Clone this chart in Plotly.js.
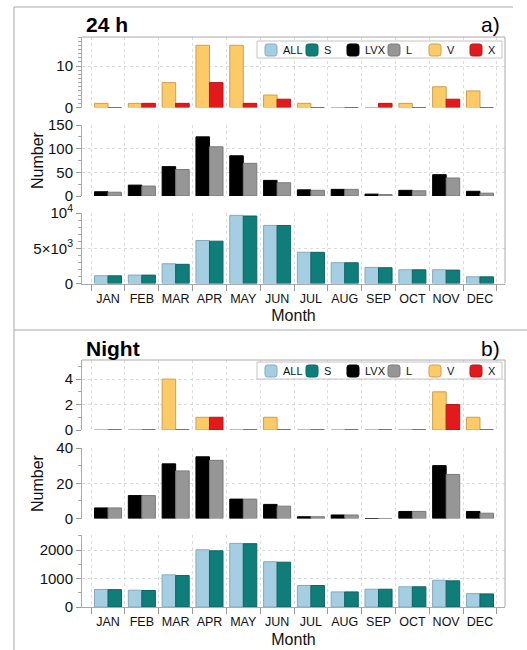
<!DOCTYPE html>
<html>
<head>
<meta charset="utf-8">
<script src="https://cdn.plot.ly/plotly-3.0.1.min.js"></script>
<style>html,body{margin:0;padding:0;background:#fff;}#chart{width:527px;height:650px;}</style>
</head>
<body>
<div id="chart"></div>
<script>
// ---------- data ----------
const months = ["JAN","FEB","MAR","APR","MAY","JUN","JUL","AUG","SEP","OCT","NOV","DEC"];

// Panel a) 24 h
const dayV   = [1, 1, 6, 15, 15, 3, 1, 0, 0, 1, 5, 4];
const dayX   = [0, 1, 1, 6, 1, 2, 0, 0, 1, 0, 2, 0];
const dayLVX = [9, 23, 62, 125, 85, 33, 13, 14, 4, 12, 45, 10];
const dayL   = [8, 21, 56, 104, 69, 28, 12, 14, 3, 11, 38, 6];
const dayALL = [1100, 1200, 2800, 6100, 9670, 8240, 4430, 2950, 2290, 1950, 1950, 950];
const dayS   = [1090, 1190, 2720, 6000, 9570, 8230, 4420, 2940, 2240, 1940, 1900, 940];

// Panel b) Night
const nightV   = [0, 0, 4, 1, 0, 1, 0, 0, 0, 0, 3, 1];
const nightX   = [0, 0, 0, 1, 0, 0, 0, 0, 0, 0, 2, 0];
const nightLVX = [6, 13, 31, 35, 11, 8, 1, 2, 0, 4, 30, 4];
const nightL   = [6, 13, 27, 33, 11, 7, 1, 2, 0, 4, 25, 3];
const nightALL = [615, 590, 1130, 2010, 2235, 1590, 755, 530, 625, 710, 940, 470];
const nightS   = [610, 580, 1105, 1975, 2225, 1575, 755, 530, 625, 710, 920, 460];

const seriesNames = ["ALL","S","LVX","L","V","X"];
const fills = {ALL:"#a6cee3", S:"#0f7e7b", LVX:"#000000", L:"#969696", V:"#fdca68", X:"#e31a1c"};
const edges = {ALL:"#86a9bb", S:"#0b6664", LVX:"#000000", L:"#7a7a7a", V:"#cf9f4c", X:"#b3191b"};

// ---------- layout helpers ----------
const W = 527, H = 650;
const px = v => v / W;
const py = v => 1 - v / H;
const FONT = "Liberation Sans, Arial, Helvetica, sans-serif";
const xDom = [px(82), px(505)];

function bar(name, y, xa, ya) {
  return {
    type: "bar", name: name, x: months, y: y,
    xaxis: xa, yaxis: ya, showlegend: false,
    marker: {color: fills[name], line: {color: edges[name], width: 1}},
    hoverinfo: "skip"
  };
}

const data = [
  bar("ALL", dayALL, "x3", "y3"),
  bar("S", dayS, "x3", "y3"),
  bar("LVX", dayLVX, "x2", "y2"),
  bar("L", dayL, "x2", "y2"),
  bar("V", dayV, "x", "y"),
  bar("X", dayX, "x", "y"),
  bar("ALL", nightALL, "x6", "y6"),
  bar("S", nightS, "x6", "y6"),
  bar("LVX", nightLVX, "x5", "y5"),
  bar("L", nightL, "x5", "y5"),
  bar("V", nightV, "x4", "y4"),
  bar("X", nightX, "x4", "y4")
];

const gridStyle = {showgrid: true, gridcolor: "#dcdcdc", griddash: "dot", gridwidth: 1};

function xax(anchor, bottom) {
  return Object.assign({
    domain: xDom, anchor: anchor, type: "category",
    range: [-0.77, 11.74], tickson: "boundaries", tickangle: 0,
    ticks: bottom ? "outside" : "", ticklen: 6, tickcolor: "#999",
    ticklabelstandoff: 3,
    showticklabels: bottom, showline: bottom, linecolor: "#aaa", linewidth: 1,
    tickfont: {size: 12.5, color: "#111", family: FONT},
    zeroline: false, fixedrange: true
  }, gridStyle, bottom ? {title: {text: "Month", font: {size: 16, family: FONT, color: "#111"}, standoff: 5}} : {});
}

function yax(anchor, dom, range, tickvals, ticktext, minorDtick) {
  return Object.assign({
    domain: dom, anchor: anchor, range: range,
    tickmode: "array", tickvals: tickvals, ticktext: ticktext,
    ticks: "outside", ticklen: 5, tickcolor: "#999",
    showline: true, linecolor: "#aaa", linewidth: 1,
    tickfont: {size: 15, color: "#111", family: FONT},
    zeroline: false, fixedrange: true,
    minor: {dtick: minorDtick, ticks: "outside", ticklen: 3, tickcolor: "#aaa", showgrid: false}
  }, gridStyle);
}

// ---------- legend (one per panel), keyed to the series names / colours ----------
const legendSwatchX = [265, 306, 347, 388, 429, 470];
function roundRect(x0, y0, x1, y1, r) {
  const X = v => px(v).toFixed(5), Y = v => py(v).toFixed(5);
  return `M${X(x0 + r)},${Y(y0)} L${X(x1 - r)},${Y(y0)} Q${X(x1)},${Y(y0)} ${X(x1)},${Y(y0 + r)} ` +
         `L${X(x1)},${Y(y1 - r)} Q${X(x1)},${Y(y1)} ${X(x1 - r)},${Y(y1)} L${X(x0 + r)},${Y(y1)} ` +
         `Q${X(x0)},${Y(y1)} ${X(x0)},${Y(y1 - r)} L${X(x0)},${Y(y0 + r)} Q${X(x0)},${Y(y0)} ${X(x0 + r)},${Y(y0)} Z`;
}
function legendParts(top) {
  const shapes = [{
    type: "rect", xref: "paper", yref: "paper",
    x0: px(257), x1: px(502), y0: py(top + 17), y1: py(top),
    fillcolor: "#fff", line: {color: "#c4c4c4", width: 1}
  }];
  const ann = [];
  seriesNames.forEach((n, i) => {
    const sx = legendSwatchX[i];
    shapes.push({
      type: "path", xref: "paper", yref: "paper",
      path: roundRect(sx, top + 3, sx + 12, top + 15, 2.5),
      fillcolor: fills[n], line: {color: edges[n], width: 1}
    });
    ann.push({
      text: n, xref: "paper", yref: "paper", x: px(sx + 16), y: py(top + 9),
      xanchor: "left", yanchor: "middle", showarrow: false,
      font: {size: 11, family: FONT, color: "#111"}
    });
  });
  return {shapes, ann};
}
const legA = legendParts(41);
const legB = legendParts(362);

const lineStyle = {color: "#aaa", width: 1};
const layout = {
  width: W, height: H,
  margin: {l: 0, r: 0, t: 0, b: 0},
  paper_bgcolor: "#fff", plot_bgcolor: "#fff",
  font: {family: FONT, color: "#111"},
  barmode: "group", bargap: 0.2, bargroupgap: 0,
  showlegend: false,
  xaxis:  xax("y", false),
  xaxis2: xax("y2", false),
  xaxis3: xax("y3", true),
  xaxis4: xax("y4", false),
  xaxis5: xax("y5", false),
  xaxis6: xax("y6", true),
  yaxis:  yax("x",  [py(107.5), py(37)],  [0, 17],   [0, 10], ["0", "10"], 1),
  yaxis2: yax("x2", [py(196), py(125)],   [0, 150],  [0, 50, 100, 150], ["0", "50", "100", "150"], 25),
  yaxis3: yax("x3", [py(283.5), py(213)], [0, 10000],[0, 5000, 10000], ["0", "5×10<sup>3</sup>", "10<sup>4</sup>"], 1000),
  yaxis4: yax("x4", [py(430), py(360)],   [0, 5.5],  [0, 2, 4], ["0", "2", "4"], 1),
  yaxis5: yax("x5", [py(518.5), py(448)], [0, 40],   [0, 20, 40], ["0", "20", "40"], 10),
  yaxis6: yax("x6", [py(607), py(535)],   [0, 2530], [0, 1000, 2000], ["0", "1000", "2000"], 500),
  shapes: [
    // figure panel frame
    {type: "line", xref: "paper", yref: "paper", x0: px(14), x1: px(14), y0: 0, y1: py(7), line: lineStyle},
    {type: "line", xref: "paper", yref: "paper", x0: px(14), x1: px(513), y0: py(7), y1: py(7), line: lineStyle},
    {type: "line", xref: "paper", yref: "paper", x0: px(14), x1: 1, y0: py(330), y1: py(330), line: lineStyle},
    // plot frames (top + right edges)
    {type: "line", xref: "paper", yref: "paper", x0: xDom[0], x1: xDom[1], y0: py(37), y1: py(37), line: lineStyle},
    {type: "line", xref: "paper", yref: "paper", x0: xDom[1], x1: xDom[1], y0: py(37), y1: py(283.5), line: lineStyle},
    {type: "line", xref: "paper", yref: "paper", x0: xDom[0], x1: xDom[1], y0: py(360), y1: py(360), line: lineStyle},
    {type: "line", xref: "paper", yref: "paper", x0: xDom[1], x1: xDom[1], y0: py(360), y1: py(607), line: lineStyle}
  ].concat(legA.shapes, legB.shapes),
  annotations: [
    {text: "<b>24 h</b>", xref: "paper", yref: "paper", x: px(84), y: py(25), xanchor: "left", yanchor: "middle", showarrow: false, font: {size: 21, family: FONT, color: "#000"}},
    {text: "a)", xref: "paper", yref: "paper", x: px(502), y: py(25), xanchor: "right", yanchor: "middle", showarrow: false, font: {size: 21, family: FONT, color: "#000"}},
    {text: "<b>Night</b>", xref: "paper", yref: "paper", x: px(84), y: py(348), xanchor: "left", yanchor: "middle", showarrow: false, font: {size: 21, family: FONT, color: "#000"}},
    {text: "b)", xref: "paper", yref: "paper", x: px(502), y: py(348), xanchor: "right", yanchor: "middle", showarrow: false, font: {size: 21, family: FONT, color: "#000"}},
    {text: "Number", xref: "paper", yref: "paper", x: px(37), y: py(160), xanchor: "center", yanchor: "middle", textangle: -90, showarrow: false, font: {size: 16, family: FONT, color: "#111"}},
    {text: "Number", xref: "paper", yref: "paper", x: px(37), y: py(483), xanchor: "center", yanchor: "middle", textangle: -90, showarrow: false, font: {size: 16, family: FONT, color: "#111"}}
  ].concat(legA.ann, legB.ann)
};

Plotly.newPlot("chart", data, layout, {displayModeBar: false, staticPlot: true});
</script>
</body>
</html>
